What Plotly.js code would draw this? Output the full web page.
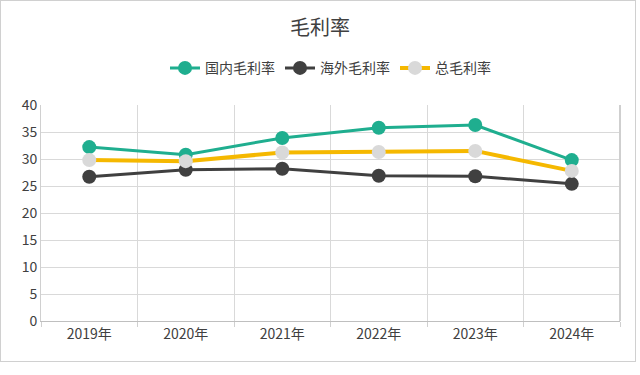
<!DOCTYPE html>
<html>
<head>
<meta charset="utf-8">
<script src="https://cdn.plot.ly/plotly-3.0.1.min.js"></script>
<style>
html,body{margin:0;padding:0;background:#fff;}
#wrap{position:relative;width:640px;height:375px;}
#frame{position:absolute;left:0;top:0;width:634px;height:360px;border:1px solid #d0d0d0;pointer-events:none;}
#chart{position:absolute;left:0;top:0;width:640px;height:375px;}
</style>
</head>
<body>
<div id="wrap"><div id="chart"></div><div id="frame"></div></div>
<script>
const years = ["2019年","2020年","2021年","2022年","2023年","2024年"];
const domestic = [32.2, 30.8, 33.9, 35.8, 36.3, 29.8];
const overseas = [26.7, 28.0, 28.2, 26.9, 26.8, 25.4];
const total = [29.8, 29.6, 31.2, 31.3, 31.5, 27.8];
const seriesNames = ["国内毛利率","海外毛利率","总毛利率"];

const font = '"Noto Sans CJK SC", "Noto Sans", sans-serif';

const traces = [
  {x: years, y: domestic, name: seriesNames[0], type: 'scatter', mode: 'lines+markers',
   line: {color: '#1fae8f', width: 3}, marker: {color: '#1fae8f', size: 14}},
  {x: years, y: overseas, name: seriesNames[1], type: 'scatter', mode: 'lines+markers',
   line: {color: '#404040', width: 3}, marker: {color: '#404040', size: 14}},
  {x: years, y: total, name: seriesNames[2], type: 'scatter', mode: 'lines+markers',
   line: {color: '#f5b800', width: 4}, marker: {color: '#d9d9d9', size: 14}}
];

const layout = {
  width: 640, height: 375,
  margin: {l: 41, r: 20, t: 105, b: 54},
  paper_bgcolor: '#fff', plot_bgcolor: '#fff',
  font: {family: font, color: '#404040', size: 13},
  title: {text: '毛利率', x: 0.5, xanchor: 'center', y: 0.925, yanchor: 'middle',
          font: {family: font, size: 20, color: '#404040'}},
  showlegend: true,
  legend: {orientation: 'h', x: 0.5, xanchor: 'center', y: 1.17, yanchor: 'middle',
           font: {family: font, size: 14, color: '#404040'}, itemwidth: 30,
           traceorder: 'normal'},
  xaxis: {type: 'category', range: [-0.5, 5.5], tickson: 'boundaries', showgrid: true, gridcolor: '#d9d9d9',
          showline: true, linecolor: '#bfbfbf', ticks: 'outside', ticklen: 5, tickcolor: '#d0d0d0',
          tickfont: {family: font, size: 14, color: '#404040'}, zeroline: false, fixedrange: true},
  yaxis: {range: [0, 40], tickvals: [0,5,10,15,20,25,30,35,40], showgrid: true, gridcolor: '#d9d9d9',
          showline: true, linecolor: '#d0d0d0', zeroline: false, ticks: '',
          tickfont: {family: font, size: 14, color: '#404040'}, fixedrange: true},
  shapes: [
    {type: 'line', xref: 'paper', yref: 'paper', x0: 1, x1: 1, y0: 0, y1: 1,
     line: {color: '#cfcfcf', width: 2}}
  ]
};

Plotly.newPlot('chart', traces, layout, {displayModeBar: false, staticPlot: true});
</script>
</body>
</html>
